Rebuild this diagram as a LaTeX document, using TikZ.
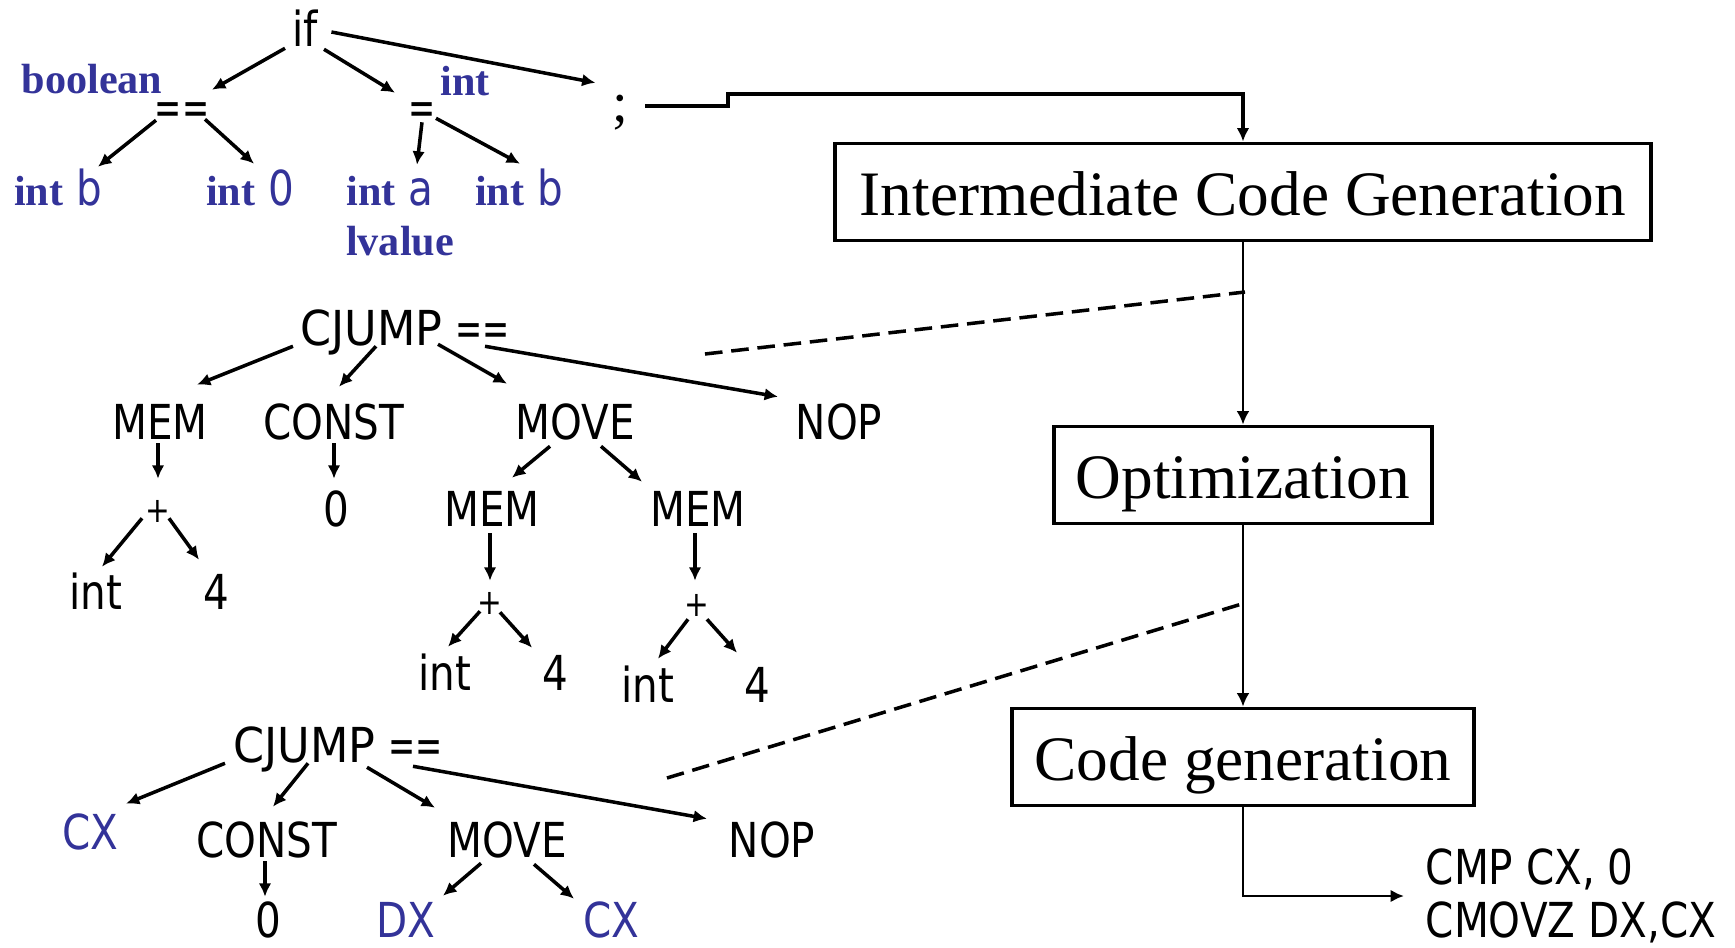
\documentclass[tikz,border=0pt]{standalone}
\usepackage{fontspec}
\usepackage{graphicx}
\setmainfont{Liberation Serif}
\newfontfamily\treefont[FakeStretch=0.84]{DejaVu Sans}
\usetikzlibrary{arrows.meta}
\definecolor{tyblue}{RGB}{51,51,153}
\newcommand{\tyint}{{\rmfamily\bfseries\fontsize{12}{14}\selectfont int}}
\newcommand{\opeq}[1]{\scalebox{0.8}[1]{#1}}
\newcommand{\cjump}{\scalebox{1.1}[1]{CJUMP} \opeq{==}}
\newcommand{\opplus}{\raisebox{1.3pt}{\fontsize{10}{12}\selectfont +}}

\begin{document}
\begin{tikzpicture}[x=0.01cm, y=-0.01cm, >={Latex[length=3.8pt,width=3.6pt]},
  lbl/.style={font=\treefont\fontsize{13.7}{15}\selectfont, inner sep=0pt,
    text height=10pt, text depth=0pt},
  ty/.style={font=\bfseries\fontsize{12}{14}\selectfont, text=tyblue, inner sep=0pt},
  stage/.style={draw, line width=1.1pt, font=\fontsize{18}{20}\selectfont,
    minimum height=0.97cm, inner sep=0pt, text height=13.5pt, text depth=0pt},
  tarrow/.style={->, line width=1pt},
  flow/.style={->, line width=0.6pt},
  dashln/.style={line width=1pt, dash pattern=on 5pt off 2.5pt}]

  \useasboundingbox (0,0) rectangle (1735,948);

  \node[lbl] (ifT) at (305,29) {if};
  \node[lbl] (eqeq) at (182,107) {\opeq{==}};
  \node[lbl] (eqT) at (422,107) {\opeq{=}};
  \node[inner sep=0pt, font=\fontsize{16}{18}\selectfont] (semi) at (620,113) {;};
  \node[ty] (boolT) at (92,79) {boolean};
  \node[ty] (intT) at (465,81) {int};
  \node[ty] (lval) at (400,241) {lvalue};
  \node[lbl, text=tyblue] (intbA) at (58,188) {\tyint{} b};
  \node[lbl, text=tyblue] (int0) at (250,188) {\tyint{} 0};
  \node[lbl, text=tyblue] (inta) at (390,188) {\tyint{} a};
  \node[lbl, text=tyblue] (intbB) at (519,188) {\tyint{} b};

  \draw[tarrow] ([shift={(-20,1)}]ifT.south) -- ([shift={(30,1)}]eqeq.north);
  \draw[tarrow] ([shift={(19,2)}]ifT.south) -- ([shift={(-27,4)}]eqT.north);
  \draw[tarrow] ([shift={(13,3)}]ifT.east) -- ([shift={(-16,-12)}]semi.north west);
  \draw[tarrow] ([shift={(-26,-5)}]eqeq.south) -- ([shift={(40,-3)}]intbA.north);
  \draw[tarrow] ([shift={(23,-6)}]eqeq.south) -- ([shift={(4,-6)}]int0.north);
  \draw[tarrow] ([shift={(0,-3)}]eqT.south) -- ([shift={(27,-5)}]inta.north);
  \draw[tarrow] ([shift={(14,-7)}]eqT.south) -- ([shift={(1,-6)}]intbB.north);

  \node[lbl] (cjA) at (405,328) {\cjump};
  \node[lbl] (memA) at (160,422) {MEM};
  \node[lbl] (cstA) at (334,422) {CONST};
  \node[lbl] (movA) at (575,422) {MOVE};
  \node[lbl] (nopA) at (839,422) {NOP};
  \node[lbl] (plusA) at (158,509) {\opplus};
  \node[lbl] (zeroA) at (336,509) {0};
  \node[lbl] (intA) at (96,592) {int};
  \node[lbl] (fourA) at (216,592) {4};
  \node[lbl] (memB) at (492,509) {MEM};
  \node[lbl] (memC) at (698,509) {MEM};
  \node[lbl] (plusB) at (490,601) {\opplus};
  \node[lbl] (plusC) at (697,603) {\opplus};
  \node[lbl] (intB) at (445,673) {int};
  \node[lbl] (fourB) at (555,673) {4};
  \node[lbl] (intC) at (648,685) {int};
  \node[lbl] (fourC) at (757,685) {4};

  \draw[tarrow] ([shift={(-112,0)}]cjA.south) -- ([shift={(37,-19)}]memA.north);
  \draw[tarrow] ([shift={(-29,0)}]cjA.south) -- ([shift={(5,-17)}]cstA.north);
  \draw[tarrow] ([shift={(33,-2)}]cjA.south) -- ([shift={(-68,-20)}]movA.north);
  \draw[tarrow] ([shift={(80,0)}]cjA.south) -- ([shift={(-61,-7)}]nopA.north);
  \draw[tarrow] ([shift={(-2,3)}]memA.south) -- ([shift={(0,-12)}]plusA.north);
  \draw[tarrow] ([shift={(0,3)}]cstA.south) -- ([shift={(-2,-12)}]zeroA.north);
  \draw[tarrow] ([shift={(-16,-9)}]plusA.south) -- ([shift={(6,-7)}]intA.north);
  \draw[tarrow] ([shift={(11,-9)}]plusA.south) -- ([shift={(-17,-14)}]fourA.north);
  \draw[tarrow] ([shift={(-25,6)}]movA.south) -- ([shift={(20,-13)}]memB.north);
  \draw[tarrow] ([shift={(26,6)}]movA.south) -- ([shift={(-56,-9)}]memC.north);
  \draw[tarrow] ([shift={(-2,6)}]memB.south) -- ([shift={(0,-2)}]plusB.north);
  \draw[tarrow] ([shift={(-3,6)}]memC.south) -- ([shift={(-2,-4)}]plusC.north);
  \draw[tarrow] ([shift={(-10,-8)}]plusB.south) -- ([shift={(3,-8)}]intB.north);
  \draw[tarrow] ([shift={(10,-7)}]plusB.south) -- ([shift={(-23,-7)}]fourB.north);
  \draw[tarrow] ([shift={(-9,-2)}]plusC.south) -- ([shift={(10,-8)}]intC.north);
  \draw[tarrow] ([shift={(10,-2)}]plusC.south) -- ([shift={(-20,-14)}]fourC.north);

  \node[lbl] (cjB) at (338,745) {\cjump};
  \node[lbl, text=tyblue] (cxA) at (90,832) {CX};
  \node[lbl] (cstB) at (267,840) {CONST};
  \node[lbl] (movB) at (507,840) {MOVE};
  \node[lbl] (nopB) at (772,840) {NOP};
  \node[lbl] (zeroB) at (268,920) {0};
  \node[lbl, text=tyblue] (dx) at (406,920) {DX};
  \node[lbl, text=tyblue] (cxB) at (611,920) {CX};

  \draw[tarrow] ([shift={(-113,0)}]cjB.south) -- ([shift={(36,-10)}]cxA.north);
  \draw[tarrow] ([shift={(-30,0)}]cjB.south) -- ([shift={(6,-15)}]cstB.north);
  \draw[tarrow] ([shift={(29,4)}]cjB.south) -- ([shift={(-72,-14)}]movB.north);
  \draw[tarrow] ([shift={(75,3)}]cjB.south) -- ([shift={(-65,-3)}]nopB.north);
  \draw[tarrow] ([shift={(-2,3)}]cstB.south) -- ([shift={(-3,-5)}]zeroB.north);
  \draw[tarrow] ([shift={(-26,5)}]movB.south) -- ([shift={(37,-6)}]dx.north);
  \draw[tarrow] ([shift={(27,6)}]movB.south) -- ([shift={(-37,-3)}]cxB.north);

  \node[stage, minimum width=8.16cm] (icg) at (1243,192) {Intermediate Code Generation};
  \node[stage, minimum width=3.78cm] (opt) at (1243,475) {Optimization};
  \node[stage, minimum width=4.61cm] (cg) at (1243,757) {Code generation};
  \node[font=\treefont\fontsize{13.7}{15}\selectfont, align=left, anchor=west,
    inner xsep=6pt, inner ysep=0pt] (code) at (1404,896) {CMP CX, 0\\CMOVZ DX,CX};

  \draw[tarrow] ([shift={(25,-7)}]semi.center) -- ++(83,0) -- ++(0,-12) -| (icg.north);
  \draw[flow] (icg) -- (opt);
  \draw[flow] (opt) -- (cg);
  \draw[flow, line width=0.8pt] (cg.south) |- (code.west);

  \coordinate (dashA) at (705,354);
  \coordinate (tapA) at (1245,292);
  \coordinate (dashB) at (667,778);
  \coordinate (tapB) at (1245,603);
  \draw[dashln] (dashA) -- (tapA);
  \draw[dashln] (dashB) -- (tapB);

\end{tikzpicture}
\end{document}
